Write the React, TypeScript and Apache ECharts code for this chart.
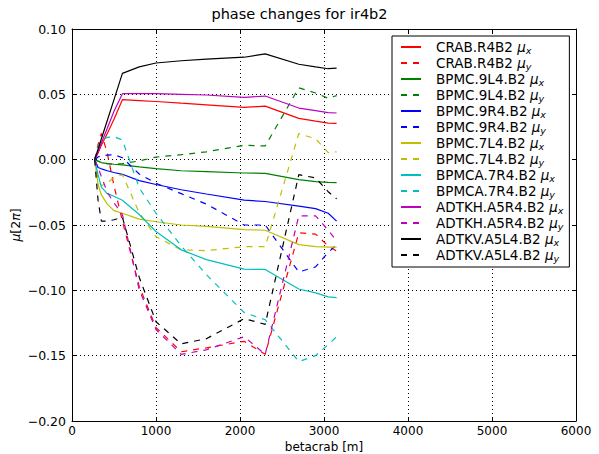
import React, { useEffect, useRef } from 'react';
import * as echarts from 'echarts';

// positions along the beam line [m]
const S = [270, 310, 350, 420, 500, 600, 800, 1000, 1300, 1600, 2050, 2300, 2700, 2900, 3050, 3150];

const crabX = [0, 0.005, 0.011, 0.02, 0.031, 0.0459, 0.0452, 0.0445, 0.0432, 0.042, 0.04, 0.041, 0.0316, 0.0295, 0.028, 0.0278];
const crabY = [0, 0.0115, 0.02, 0.005, -0.02, -0.047, -0.097, -0.1285, -0.147, -0.144, -0.139, -0.149, -0.056, -0.057, -0.066, -0.07];
const bpmc9l4X = [0, -0.0012, -0.0022, -0.003, -0.0035, -0.004, -0.0055, -0.0068, -0.0085, -0.0091, -0.0102, -0.0105, -0.0153, -0.0168, -0.0174, -0.0175];
const bpmc9l4Y = [0, -0.001, -0.002, -0.003, -0.0035, -0.003, -0.001, 0.002, 0.0038, 0.006, 0.011, 0.0105, 0.055, 0.051, 0.047, 0.049];
const bpmc9r4X = [0, -0.006, -0.007, -0.0085, -0.0098, -0.0112, -0.016, -0.019, -0.023, -0.0263, -0.031, -0.032, -0.0355, -0.0375, -0.041, -0.047];
const bpmc9r4Y = [0, 0.002, 0.003, 0.0035, 0.0038, 0.0015, -0.011, -0.018, -0.026, -0.034, -0.05, -0.05, -0.086, -0.082, -0.071, -0.065];
const bpmc7l4X = [0, -0.019, -0.027, -0.034, -0.039, -0.041, -0.0455, -0.0475, -0.05, -0.051, -0.0536, -0.054, -0.065, -0.0665, -0.067, -0.067];
const bpmc7l4Y = [0, -0.015, -0.02, -0.0176, -0.0138, -0.0115, -0.0405, -0.059, -0.069, -0.0696, -0.0666, -0.0666, 0.02, 0.016, 0.0054, 0.006];
const bpmca7r4X = [0, -0.0115, -0.021, -0.026, -0.028, -0.031, -0.042, -0.055, -0.069, -0.0765, -0.0838, -0.084, -0.099, -0.102, -0.105, -0.1056];
const bpmca7r4Y = [0, 0.01, 0.015, 0.017, 0.0176, 0.015, -0.0215, -0.041, -0.066, -0.088, -0.117, -0.1225, -0.1545, -0.15, -0.1415, -0.1355];
const adtkhX = [0, 0.006, 0.013, 0.024, 0.037, 0.0505, 0.0505, 0.0505, 0.05, 0.0495, 0.0477, 0.0487, 0.0395, 0.0375, 0.036, 0.0357];
const adtkhY = [0, -0.006, -0.013, -0.025, -0.033, -0.042, -0.0995, -0.13, -0.149, -0.1455, -0.1355, -0.149, -0.043, -0.043, -0.054, -0.062];
const adtkvX = [0, 0.008, 0.016, 0.03, 0.046, 0.066, 0.071, 0.074, 0.0757, 0.077, 0.0784, 0.081, 0.073, 0.071, 0.0696, 0.07];
const adtkvY = [0, -0.031, -0.047, -0.047, -0.046, -0.044, -0.09, -0.124, -0.141, -0.137, -0.1217, -0.126, -0.0115, -0.014, -0.0245, -0.03];

const SERIES = [
  { name: 'CRAB.R4B2 μx', data: crabX, color: '#ff0000', dashed: false },
  { name: 'CRAB.R4B2 μy', data: crabY, color: '#ff0000', dashed: true },
  { name: 'BPMC.9L4.B2 μx', data: bpmc9l4X, color: '#008000', dashed: false },
  { name: 'BPMC.9L4.B2 μy', data: bpmc9l4Y, color: '#008000', dashed: true },
  { name: 'BPMC.9R4.B2 μx', data: bpmc9r4X, color: '#0000ff', dashed: false },
  { name: 'BPMC.9R4.B2 μy', data: bpmc9r4Y, color: '#0000ff', dashed: true },
  { name: 'BPMC.7L4.B2 μx', data: bpmc7l4X, color: '#bfbf00', dashed: false },
  { name: 'BPMC.7L4.B2 μy', data: bpmc7l4Y, color: '#bfbf00', dashed: true },
  { name: 'BPMCA.7R4.B2 μx', data: bpmca7r4X, color: '#00bfbf', dashed: false },
  { name: 'BPMCA.7R4.B2 μy', data: bpmca7r4Y, color: '#00bfbf', dashed: true },
  { name: 'ADTKH.A5R4.B2 μx', data: adtkhX, color: '#bf00bf', dashed: false },
  { name: 'ADTKH.A5R4.B2 μy', data: adtkhY, color: '#bf00bf', dashed: true },
  { name: 'ADTKV.A5L4.B2 μx', data: adtkvX, color: '#000000', dashed: false },
  { name: 'ADTKV.A5L4.B2 μy', data: adtkvY, color: '#000000', dashed: true },
];

const FONT = 'DejaVu Sans';

function buildOption() {
  const axisLine = { show: true, onZero: false, lineStyle: { color: '#000', width: 1 } };
  const tick = { show: true, inside: true, length: 4, lineStyle: { color: '#000', width: 1 } };
  const grid = { show: true, lineStyle: { color: '#000', width: 1, type: [1, 3] } };
  return {
    animation: false,
    backgroundColor: '#fff',
    title: {
      text: 'phase changes for ir4b2',
      left: 'center',
      top: 6,
      padding: 0,
      textStyle: { fontFamily: FONT, fontSize: 14.5, fontWeight: 'normal', color: '#000' },
    },
    grid: { left: 72, right: 23, top: 29, bottom: 33, containLabel: false, outerBoundsMode: 'none' },
    xAxis: [
      {
        type: 'value', min: 0, max: 6000, interval: 1000, position: 'bottom',
        axisLine, axisTick: tick, splitLine: grid,
        axisLabel: {
          color: '#000', fontFamily: FONT, fontSize: 12, lineHeight: 13, margin: 3,
          formatter: (v: number) => String(v),
        },
        name: 'betacrab [m]', nameLocation: 'middle', nameGap: 19, nameMoveOverlap: false,
        nameTextStyle: { color: '#000', fontFamily: FONT, fontSize: 12, lineHeight: 13 },
      },
      {
        type: 'value', min: 0, max: 6000, interval: 1000, position: 'top',
        axisLine, axisTick: tick, splitLine: { show: false }, axisLabel: { show: false },
      },
    ],
    yAxis: [
      {
        type: 'value', min: -0.2, max: 0.1, interval: 0.05, position: 'left',
        axisLine, axisTick: tick, splitLine: grid,
        axisLabel: {
          color: '#000', fontFamily: FONT, fontSize: 12.5, margin: 6,
          formatter: (v: number) => (v < -1e-9 ? '\u2212' : '') + Math.abs(v).toFixed(2),
        },
        name: '{i|μ}[2{i|π}]', nameLocation: 'middle', nameGap: 50, nameRotate: 90, nameMoveOverlap: false,
        nameTextStyle: {
          color: '#000', fontFamily: FONT, fontSize: 12.5,
          rich: { i: { fontFamily: FONT, fontSize: 12.5, fontStyle: 'italic', color: '#000' } },
        },
      },
      {
        type: 'value', min: -0.2, max: 0.1, interval: 0.05, position: 'right',
        axisLine, axisTick: tick, splitLine: { show: false }, axisLabel: { show: false },
      },
    ],
    legend: {
      orient: 'vertical',
      left: 392,
      top: 36,
      padding: [4, 6, 4, 8],
      itemWidth: 20,
      itemHeight: 10,
      itemGap: 1,
      borderColor: '#000',
      borderWidth: 1,
      backgroundColor: '#fff',
      itemStyle: { opacity: 0 },
      data: SERIES.map((s) => s.name),
      formatter: (name: string) => {
        const base = name.slice(0, -3);
        const sub = name.slice(-1);
        return `{t|${base} }{m|μ}{s|${sub}}`;
      },
      textStyle: {
        padding: [0, 0, 0, 10],
        rich: {
          t: { fontFamily: FONT, fontSize: 13.5, color: '#000', lineHeight: 16 },
          m: { fontFamily: FONT, fontSize: 13.5, fontStyle: 'italic', color: '#000', lineHeight: 16 },
          s: { fontFamily: FONT, fontSize: 9.5, fontStyle: 'italic', color: '#000', lineHeight: 8, verticalAlign: 'bottom' },
        },
      },
    },
    series: SERIES.map((s) => ({
      name: s.name,
      type: 'line',
      xAxisIndex: 0,
      yAxisIndex: 0,
      symbol: 'none',
      showSymbol: false,
      data: S.map((x, i) => [x, s.data[i]]),
      lineStyle: { color: s.color, width: 1.2, type: s.dashed ? [6, 6] : 'solid' },
      itemStyle: { color: s.color },
      emphasis: { disabled: true },
    })),
  };
}

export default function App() {
  const ref = useRef<HTMLDivElement>(null);
  useEffect(() => {
    if (!ref.current) return;
    const chart = echarts.init(ref.current, null, { renderer: 'svg' });
    chart.setOption(buildOption() as any);
    return () => chart.dispose();
  }, []);
  return (
    <div
      ref={ref}
      style={{ position: 'fixed', left: 0, top: 0, width: '599px', height: '454px', background: '#fff' }}
    />
  );
}
